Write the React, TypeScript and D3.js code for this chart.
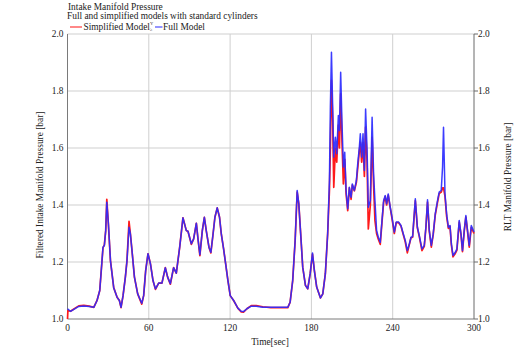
import React from "react";
import * as d3 from "d3";

const fullTime = [0,2.2,5,8.3,12,16,19.4,21.8,23.8,26.2,27.2,28.2,29,30.2,31.7,34.1,36.6,38.3,39.5,41,42.7,43.9,45.4,46.4,47.6,49.4,51.8,54.8,56.2,57.7,59.4,61.2,63.1,64.9,67.3,69.7,72.2,73.9,75.9,78.3,80.3,82.8,85.2,87.7,88.9,91.4,93.1,95.1,96.3,97.7,99.5,101,102.4,104.4,105.8,107.3,108.8,110.5,112.2,113.5,115.2,116.7,118.4,120.1,122.6,125.7,128.2,129.9,132.4,135.6,139.3,144.1,150,156.4,162.6,164.3,166.2,168,169.5,170.7,172.4,173.6,175.6,177.3,179.1,180.8,182.2,183.9,186.7,188.4,190.3,192,193.3,194,194.8,195.7,196.5,197.7,198.7,199.9,200.7,201.6,202.6,203.6,204.6,205.6,206.8,208,209.3,210.2,211.7,213.2,214.2,215.4,216.1,217.1,218.1,219.1,220,221.1,222,223.5,224.8,225.9,226.9,228.1,229.4,230.8,232.1,233.3,234.5,235.5,236.7,238,239.5,241.2,242.6,244.4,246.1,247.8,249.3,250.8,252.3,253.5,254.7,256.7,258.2,259.6,261.6,263.3,264.5,265.7,267,268.5,269.9,271.4,273.1,274.3,275.8,276.8,277.5,278.6,279.8,281.1,282.3,283.3,284.5,286.2,287.4,289.1,290.4,291.5,292.8,294,295.2,296.5,298,300];
const fullModel = [1.036,1.027,1.035,1.044,1.046,1.044,1.041,1.065,1.10,1.252,1.258,1.31,1.41,1.334,1.205,1.11,1.076,1.065,1.041,1.082,1.147,1.205,1.322,1.299,1.24,1.147,1.088,1.055,1.082,1.17,1.229,1.194,1.135,1.106,1.126,1.126,1.18,1.147,1.124,1.18,1.161,1.252,1.355,1.31,1.308,1.264,1.281,1.336,1.281,1.226,1.31,1.357,1.31,1.252,1.234,1.293,1.357,1.39,1.357,1.299,1.246,1.194,1.135,1.082,1.065,1.038,1.027,1.026,1.036,1.045,1.045,1.041,1.041,1.041,1.041,1.059,1.135,1.275,1.451,1.404,1.275,1.182,1.118,1.106,1.159,1.232,1.17,1.112,1.074,1.088,1.159,1.299,1.486,1.743,1.936,1.743,1.568,1.638,1.58,1.714,1.661,1.866,1.685,1.533,1.585,1.451,1.387,1.462,1.427,1.474,1.451,1.486,1.545,1.603,1.65,1.568,1.65,1.521,1.737,1.591,1.392,1.416,1.708,1.509,1.416,1.311,1.287,1.269,1.346,1.416,1.433,1.404,1.439,1.398,1.357,1.305,1.34,1.34,1.328,1.299,1.275,1.24,1.264,1.287,1.289,1.422,1.322,1.293,1.246,1.258,1.322,1.418,1.311,1.258,1.299,1.369,1.416,1.445,1.451,1.533,1.673,1.439,1.369,1.322,1.328,1.264,1.223,1.234,1.246,1.346,1.299,1.24,1.311,1.363,1.311,1.258,1.328,1.305];

const simpTime = [0,0.3,2.2,5,8.3,12,16,19.4,21.8,23.8,26.2,27.2,28.2,29,30.2,31.7,34.1,36.6,38.3,39.5,41,42.7,43.9,45.4,46.4,47.6,49.4,51.8,54.8,56.2,57.7,59.4,61.2,63.1,64.9,67.3,69.7,72.2,73.9,75.9,78.3,80.3,82.8,85.2,87.7,88.9,91.4,93.1,95.1,96.3,97.7,99.5,101,102.4,104.4,105.8,107.3,108.8,110.5,112.2,113.5,115.2,116.7,118.4,120.1,122.6,125.7,128.2,129.9,132.4,135.6,139.3,144.1,150,156.4,162.6,164.3,166.2,168,169.5,170.7,172.4,173.6,175.6,177.3,179.1,180.8,182.2,183.9,186.7,188.4,190.3,192,193.3,194,194.8,195.7,196.5,197.7,198.7,199.9,200.7,201.6,202.6,203.6,204.6,205.6,206.8,208,209.3,210.2,211.7,213.2,214.2,215.4,216.1,217.1,218.1,219.1,220,221.1,222,223.5,224.8,225.9,226.9,228.1,229.4,230.8,232.1,233.3,234.5,235.5,236.7,238,239.5,241.2,242.6,244.4,246.1,247.8,249.3,250.8,252.3,253.5,254.7,256.7,258.2,259.6,261.6,263.3,264.5,265.7,267,268.5,269.9,271.4,273.1,274.3,275.8,276.8,277.5,278.6,279.8,281.1,282.3,283.3,284.5,286.2,287.4,289.1,290.4,291.5,292.8,294,295.2,296.5,298,300];
const simplifiedModel = [1.0,1.03,1.027,1.036,1.046,1.048,1.045,1.041,1.065,1.10,1.25,1.26,1.31,1.42,1.33,1.205,1.11,1.076,1.065,1.04,1.082,1.147,1.205,1.343,1.3,1.24,1.147,1.088,1.052,1.082,1.17,1.229,1.194,1.135,1.104,1.126,1.126,1.18,1.147,1.122,1.18,1.161,1.252,1.355,1.31,1.308,1.262,1.281,1.336,1.281,1.222,1.31,1.357,1.31,1.252,1.232,1.293,1.357,1.39,1.357,1.299,1.246,1.194,1.135,1.082,1.065,1.038,1.025,1.024,1.036,1.047,1.047,1.043,1.04,1.04,1.04,1.059,1.135,1.275,1.445,1.404,1.275,1.182,1.118,1.106,1.159,1.228,1.17,1.112,1.074,1.088,1.159,1.299,1.45,1.6,1.837,1.7,1.462,1.6,1.55,1.68,1.6,1.79,1.62,1.474,1.56,1.44,1.38,1.46,1.42,1.47,1.45,1.48,1.53,1.59,1.62,1.55,1.62,1.5,1.673,1.55,1.316,1.4,1.638,1.47,1.346,1.3,1.28,1.262,1.34,1.41,1.43,1.4,1.435,1.395,1.352,1.3,1.338,1.338,1.326,1.296,1.27,1.232,1.262,1.285,1.287,1.415,1.32,1.29,1.24,1.255,1.32,1.41,1.308,1.252,1.296,1.365,1.41,1.44,1.445,1.46,1.46,1.43,1.36,1.318,1.325,1.26,1.218,1.23,1.242,1.34,1.296,1.236,1.308,1.358,1.308,1.252,1.322,1.3];

const xTicks = [0, 60, 120, 180, 240, 300];
const yTicks = [1.0, 1.2, 1.4, 1.6, 1.8, 2.0];
const titleLines = ["Intake Manifold Pressure", "Full and simplified models with standard cylinders"];
const seriesNames = ["Simplified Model", "Full Model"];

const W = 515, H = 351;
const L = 67.5, R = 474, T = 34, B = 319;
const FONT = "'Liberation Serif', 'Times New Roman', serif";
const FS = 9.4;

export default function App() {
  const x = d3.scaleLinear().domain([0, 300]).range([L, R]);
  const y = d3.scaleLinear().domain([1.0, 2.0]).range([B, T]);
  const line = d3.line<[number, number]>().x(d => x(d[0])).y(d => y(d[1])).curve(d3.curveLinear);
  const simpPts = simpTime.map((t, i) => [t, simplifiedModel[i]] as [number, number]);
  const fullPts = fullTime.map((t, i) => [t, fullModel[i]] as [number, number]);
  const fmt = d3.format(".1f");
  return (
    <svg width={W} height={H} style={{ position: "absolute", left: 0, top: 0, background: "#fff" }} fontFamily={FONT}>
      <rect x={0} y={0} width={W} height={H} fill="#fff" />
      {xTicks.filter(t => t > 0 && t < 300).map(t => (
        <line key={"gx" + t} x1={x(t)} x2={x(t)} y1={T} y2={B} stroke="#cfcfcf" strokeWidth={1} />
      ))}
      {yTicks.filter(t => t > 1.0).map(t => (
        <line key={"gy" + t} x1={L} x2={R} y1={y(t)} y2={y(t)} stroke="#cfcfcf" strokeWidth={1} />
      ))}
      <line x1={L} x2={L} y1={T} y2={B} stroke="#7a7a7a" strokeWidth={1} />
      <line x1={L} x2={R} y1={B} y2={B} stroke="#7a7a7a" strokeWidth={1} />
      <line x1={R} x2={R} y1={T} y2={B} stroke="#6a6a6a" strokeWidth={1} />
      {yTicks.map(t => (
        <line key={"rt" + t} x1={R} x2={R + 4} y1={y(t)} y2={y(t)} stroke="#6a6a6a" strokeWidth={1} />
      ))}
      <path d={line(simpPts) || ""} fill="none" stroke="#ff1a1a" strokeWidth={1.7} strokeLinejoin="round" />
      <path d={line(fullPts) || ""} fill="none" stroke="#2b2bff" strokeWidth={1.5} strokeLinejoin="round" strokeOpacity={0.92} />
      {yTicks.map(t => (
        <text key={"yl" + t} x={L - 4} y={y(t)} dy="0.35em" textAnchor="end" fontSize={FS} fill="#222">{fmt(t)}</text>
      ))}
      {yTicks.map(t => (
        <text key={"yr" + t} x={R + 4} y={y(t)} dy="0.35em" textAnchor="start" fontSize={FS} fill="#222">{fmt(t)}</text>
      ))}
      {xTicks.map(t => (
        <text key={"xl" + t} x={x(t)} y={B + 12} textAnchor="middle" fontSize={FS} fill="#222">{t}</text>
      ))}
      <text x={270} y={345} textAnchor="middle" fontSize={FS} fill="#222">Time[sec]</text>
      <text transform={`translate(43,185) rotate(-90)`} textAnchor="middle" fontSize={FS} fill="#222">Filtered Intake Manifold Pressure [bar]</text>
      <text transform={`translate(511,177) rotate(-90)`} textAnchor="middle" fontSize={FS} fill="#222">RLT Manifold Pressure [bar]</text>
      <text x={68} y={9.5} fontSize={FS} fill="#222">{titleLines[0]}</text>
      <text x={67} y={19} fontSize={FS} fill="#222">{titleLines[1]}</text>
      <line x1={70} x2={82} y1={27} y2={27} stroke="#ff6060" strokeWidth={1.5} />
      <text x={83.5} y={29.5} fontSize={FS} fill="#222">{seriesNames[0]}</text>
      <text x={150} y={25} fontSize={4.5} fill="#444">Y</text>
      <text x={150} y={31} fontSize={4.5} fill="#444">≥</text>
      <line x1={155} x2={162.5} y1={27} y2={27} stroke="#7070ff" strokeWidth={1.5} />
      <text x={163} y={29.5} fontSize={FS} fill="#222">{seriesNames[1]}</text>
    </svg>
  );
}
